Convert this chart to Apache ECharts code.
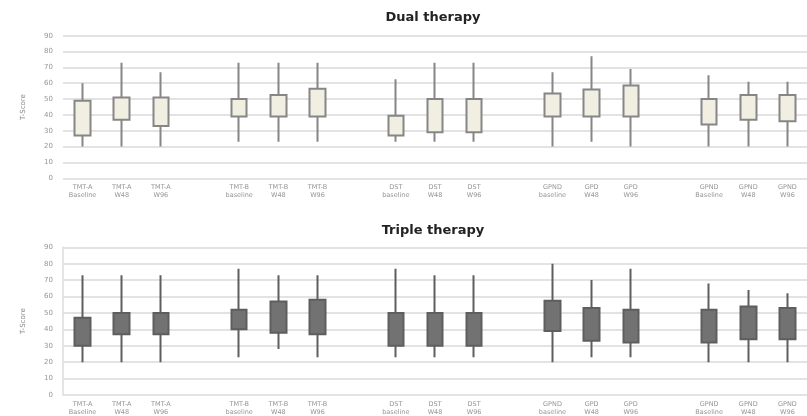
<!DOCTYPE html>
<html>
<head>
<meta charset="utf-8">
<script src="https://cdn.jsdelivr.net/npm/echarts@6/dist/echarts.min.js"></script>
<style>
  html, body { margin: 0; padding: 0; background: #ffffff; }
  #chart { width: 807px; height: 416px; }
</style>
</head>
<body>
<div id="chart"></div>
<script>
// Test labels, one per box (a blank slot separates each test group)
const testLabels = [
  'TMT-A\nBaseline', 'TMT-A\nW48', 'TMT-A\nW96',
  'TMT-B\nbaseline', 'TMT-B\nW48', 'TMT-B\nW96',
  'DST\nbaseline', 'DST\nW48', 'DST\nW96',
  'GPND\nbaseline', 'GPD\nW48', 'GPD\nW96',
  'GPND\nBaseline', 'GPND\nW48', 'GPND\nW96'
];
const yTicks = [0, 10, 20, 30, 40, 50, 60, 70, 80, 90];

// Dual therapy T-scores
const dualLow  = [20, 20, 20, 23, 23, 23, 23, 23, 23, 20, 23, 20, 20, 20, 20];
const dualQ1   = [27, 37, 33, 39, 39, 39, 27, 29, 29, 39, 39, 39, 34, 37, 36];
const dualQ3   = [49, 51, 51, 50, 52.5, 56.5, 39.5, 50, 50, 53.5, 56, 58.5, 50, 52.5, 52.5];
const dualHigh = [60, 73, 67, 73, 73, 73, 62.5, 73, 73, 67, 77, 69, 65, 61, 61];

// Triple therapy T-scores
const tripleLow  = [20, 20, 20, 23, 28, 23, 23, 23, 23, 20, 23, 23, 20, 20, 20];
const tripleQ1   = [30, 37, 37, 40, 38, 37, 30, 30, 30, 39, 33, 32, 32, 34, 34];
const tripleQ3   = [47, 50, 50, 52, 57, 58, 50, 50, 50, 57.5, 53, 52, 52, 54, 53];
const tripleHigh = [73, 73, 73, 77, 73, 73, 77, 73, 73, 80, 70, 77, 68, 64, 62];

// Insert an empty slot after every group of three
function withGaps(arr, blank) {
  const out = [];
  arr.forEach((v, i) => {
    out.push(v);
    if (i % 3 === 2 && i < arr.length - 1) out.push(blank);
  });
  return out;
}
const categories = withGaps(testLabels, '');
function boxes(q1, q3, low, high) {
  return withGaps(q1.map((v, i) => [v, q3[i], low[i], high[i]]), '-');
}

const tickFont = { color: '#959595', fontSize: 7, fontFamily: 'DejaVu Sans' };

function xAxis(gridIndex) {
  return {
    type: 'category', gridIndex, data: categories,
    axisLine: { show: false }, axisTick: { show: false },
    axisLabel: { ...tickFont, fontSize: 6.5, lineHeight: 8, interval: 0, margin: 5 }
  };
}
function yAxis(gridIndex, showLine) {
  return {
    type: 'value', gridIndex, min: yTicks[0], max: yTicks[yTicks.length - 1], interval: 10,
    name: 'T-Score', nameLocation: 'middle', nameGap: 36,
    nameTextStyle: { color: '#8a8a8a', fontSize: 7, fontFamily: 'DejaVu Sans' },
    axisLine: { show: showLine, lineStyle: { color: '#dcdcdc', width: 1.5 } },
    axisTick: { show: false },
    axisLabel: { ...tickFont, margin: 10 },
    splitLine: { lineStyle: { color: '#dadada', width: 1.5 } }
  };
}
function boxSeries(idx, data, fill, edge) {
  return {
    type: 'candlestick', xAxisIndex: idx, yAxisIndex: idx, data,
    barWidth: 16,
    itemStyle: { color: fill, color0: fill, borderColor: edge, borderColor0: edge, borderWidth: 2 }
  };
}

const chart = echarts.init(document.getElementById('chart'));
chart.setOption({
  animation: false,
  backgroundColor: '#ffffff',
  title: [
    { text: 'Dual therapy', left: 428, top: 6, textAlign: 'center',
      textStyle: { fontSize: 13, fontWeight: 'bold', color: '#222', fontFamily: 'DejaVu Sans' } },
    { text: 'Triple therapy', left: 428, top: 219, textAlign: 'center',
      textStyle: { fontSize: 13, fontWeight: 'bold', color: '#222', fontFamily: 'DejaVu Sans' } }
  ],
  grid: [
    { left: 63, top: 35.7, width: 747, height: 142.6 },
    { left: 63, top: 247.3, width: 747, height: 148.7 }
  ],
  xAxis: [xAxis(0), xAxis(1)],
  yAxis: [yAxis(0, false), yAxis(1, true)],
  series: [
    boxSeries(0, boxes(dualQ1, dualQ3, dualLow, dualHigh), '#f1efe2', '#868686'),
    boxSeries(1, boxes(tripleQ1, tripleQ3, tripleLow, tripleHigh), '#727272', '#5e5e5e')
  ]
});
</script>
</body>
</html>
